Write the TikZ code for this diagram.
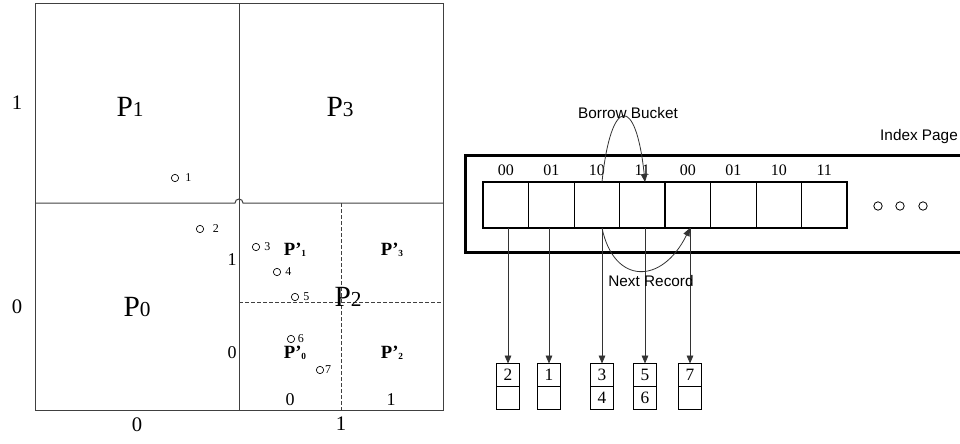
\documentclass[tikz,border=0pt]{standalone}
\usepackage{fontspec}
\setmainfont{Liberation Serif}
\newfontfamily\arialfont{Liberation Sans}
\usetikzlibrary{positioning,arrows.meta}

\tikzset{
  grid/.style={draw=black!75, line width=0.75pt},
  half/.style={grid, dash pattern=on 3pt off 1.5pt},
  bigP/.style={font=\fontsize{22}{22}\selectfont},
  axis/.style={font=\fontsize{15.5}{15.5}\selectfont},
  subax/.style={font=\fontsize{13.5}{13.5}\selectfont},
  subP/.style={font=\fontsize{14}{14}\selectfont\bfseries},
  pt/.style={draw, circle, inner sep=0pt, minimum size=5.5pt, line width=0.5pt},
  ptlabel/.style={font=\fontsize{9}{9}\selectfont, inner sep=0pt},
  cell/.style={draw, line width=0.6pt, minimum width=34.1pt, minimum height=34.5pt, inner sep=0pt, outer sep=0pt},
  bits/.style={font=\fontsize{12}{12}\selectfont, inner sep=0pt},
  rec/.style={draw, line width=0.6pt, minimum width=17.25pt, minimum height=17.25pt, inner sep=0pt, outer sep=0pt, font=\fontsize{13}{13}\selectfont},
  tag/.style={font=\arialfont\fontsize{11.5}{11.5}\selectfont},
  ptr/.style={-{Triangle[length=6pt,width=5pt]}, line width=0.6pt, draw=black!80},
}

\begin{document}
\begin{tikzpicture}[x=0.75pt, y=-0.75pt]
\useasboundingbox (0,0) rectangle (960,443);

% Quadranten
\draw[grid] (35,3) rectangle (443,410);
\draw[grid] (239,3) -- (239,410);
\draw[grid] (35,203) -- (235,203) arc[start angle=180, end angle=0, radius=3pt] -- (443,203);
\draw[half] (341,203) -- (341,410);
\draw[half] (239,302) -- (443,302);

% Achsen
\node[axis] at (17,103) {1};
\node[axis] at (17,307) {0};
\node[axis] at (137,425) {0};
\node[axis] at (341,424) {1};
\node[subax] at (232,260) {1};
\node[subax] at (232,353) {0};
\node[subax] at (290,400) {0};
\node[subax] at (391,400) {1};

% Partitionen
\node[bigP] (p1) at (130,107) {P{\fontsize{16}{16}\selectfont 1}};
\node[bigP] (p3) at (340,107) {P{\fontsize{16}{16}\selectfont 3}};
\node[bigP] (p0) at (137,307) {P{\fontsize{16}{16}\selectfont 0}};
\node[bigP] (p2) at (348,297) {P{\fontsize{16}{16}\selectfont 2}};
\node[subP] (q1) at (295,250) {P’\raisebox{-1pt}{\fontsize{7}{7}\selectfont 1}};
\node[subP] (q3) at (392,250) {P’\raisebox{-1pt}{\fontsize{7}{7}\selectfont 3}};
\node[subP] (q0) at (295,353) {P’\raisebox{-1pt}{\fontsize{7}{7}\selectfont 0}};
\node[subP] (q2) at (392,353) {P’\raisebox{-1pt}{\fontsize{7}{7}\selectfont 2}};

% Punkte
\foreach \n/\x/\y/\g in {1/175/178/4.5, 2/200/229/6.5, 3/256/247/3, 4/277/272/3, 5/295/297/3, 6/291/339/2, 7/320/370/0.7} {
  \node[pt] (d\n) at (\x,\y) {};
  \node[ptlabel, right=\g pt of d\n] (l\n) {\n};
}

% Index Page
\draw[line width=2.25pt] (960,155) -- (465,155) -- (465,252) -- (960,252);
\node[tag] (page) at (919,137) {Index Page};

\foreach \i/\b in {1/00,2/01,3/10,4/11,5/00,6/01,7/10,8/11} {
  \node[cell] (c\i) at ({483+45.5*(\i-0.5)},205) {};
  \node[bits, above=4.5pt of c\i] (t\i) {\b};
}
\draw[line width=1.5pt] (c1.north west) rectangle (c8.south east);
\draw[line width=1.5pt] (c4.north east) -- (c4.south east);

\foreach \x in {878,900,923}
  \node[draw, circle, inner sep=0pt, minimum size=6.3pt, line width=0.6pt] (dot\x) at (\x,206) {};

% Buckets
\foreach \i/\x/\t/\u in {1/508/2/, 2/549/1/, 3/602/3/4, 4/645/5/6, 5/690/7/} {
  \node[rec] (b\i) at (\x,375) {\t};
  \node[rec, below=0pt of b\i] (b\i-lo) {\u};
  \draw[ptr] (c\i.south -| b\i.north) -- (b\i.north);
}

% Borrow / Next
\draw[ptr] (c3.north -| b3) .. controls +(9,-87) and +(-9,-87) .. (c4.north -| b4);
\node[tag] (borrow) at (628,113) {Borrow Bucket};
\draw[ptr] (c3.south -| b3) .. controls +(12,57) and +(-28,57) .. (c5.south -| b5);
\node[tag] (next) at (651,281) {Next Record};

\end{tikzpicture}
\end{document}
